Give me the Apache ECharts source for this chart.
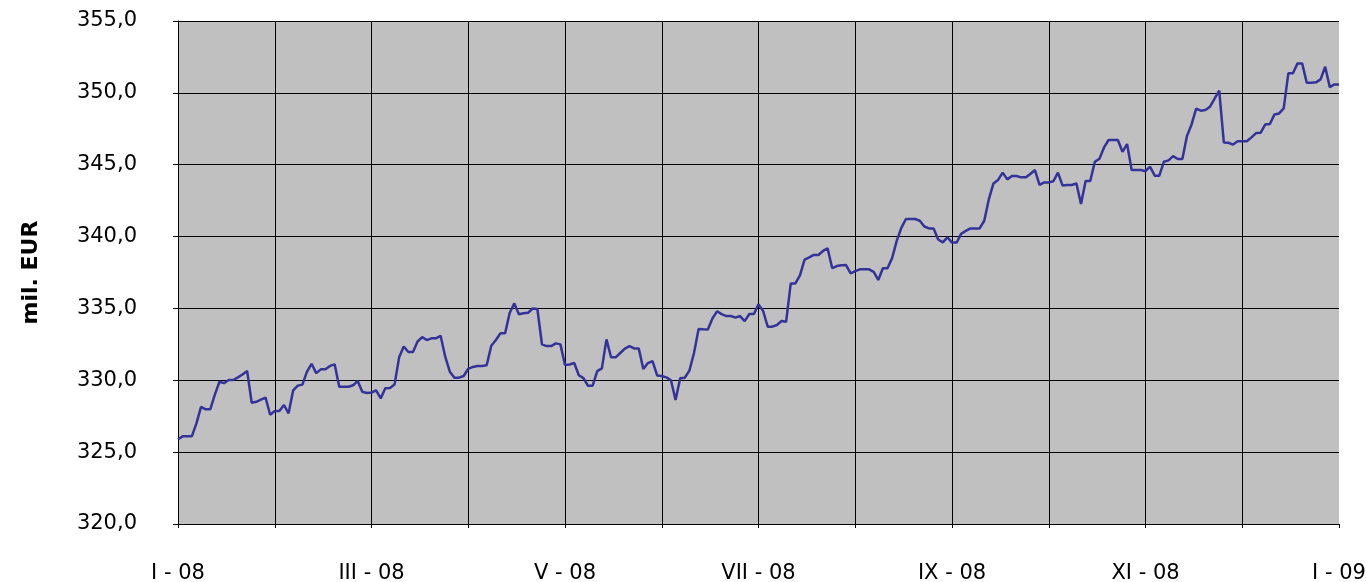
<!DOCTYPE html>
<html>
<head>
<meta charset="utf-8">
<script src="https://cdn.jsdelivr.net/npm/echarts@6/dist/echarts.min.js"></script>
<style>
  html, body { margin: 0; padding: 0; background: #ffffff; }
  #chart { width: 1366px; height: 582px; }
</style>
</head>
<body>
<div id="chart"></div>
<script>
// Month tick labels (one per month boundary, Jan 2008 .. Jan 2009)
const tickLabels = ['I - 08', 'II - 08', 'III - 08', 'IV - 08', 'V - 08', 'VI - 08', 'VII - 08',
  'VIII - 08', 'IX - 08', 'X - 08', 'XI - 08', 'XII - 08', 'I - 09'];
const pointsPerMonth = 21;

// Daily values, mil. EUR
const values = [
  325.9, 326.1, 326.1, 326.1, 327.0, 328.15, 327.98, 327.98, 329.0, 329.9,
  329.8, 330.02, 330.02, 330.2, 330.4, 330.65, 328.44, 328.5, 328.65, 328.8,
  327.6, 327.86, 327.86, 328.28, 327.7, 329.3, 329.63, 329.7, 330.6, 331.15,
  330.5, 330.76, 330.76, 331.0, 331.11, 329.55, 329.55, 329.55, 329.65, 329.95,
  329.2, 329.12, 329.15, 329.3, 328.74, 329.44, 329.47, 329.7, 331.6, 332.35,
  331.97, 331.97, 332.7, 333.0, 332.8, 332.92, 332.92, 333.1, 331.64, 330.6,
  330.18, 330.18, 330.3, 330.8, 330.93, 330.99, 330.99, 331.05, 332.4, 332.8,
  333.27, 333.27, 334.7, 335.35, 334.6, 334.66, 334.7, 335.0, 334.96, 332.5,
  332.38, 332.38, 332.57, 332.5, 331.06, 331.1, 331.2, 330.35, 330.15, 329.62,
  329.62, 330.64, 330.83, 332.85, 331.6, 331.6, 331.9, 332.2, 332.38, 332.22,
  332.22, 330.78, 331.2, 331.34, 330.34, 330.3, 330.2, 330.0, 328.63, 330.14,
  330.18, 330.67, 331.9, 333.57, 333.55, 333.54, 334.3, 334.8, 334.6, 334.47,
  334.47, 334.36, 334.47, 334.12, 334.61, 334.61, 335.28, 334.82, 333.73, 333.73,
  333.85, 334.12, 334.08, 336.74, 336.74, 337.3, 338.4, 338.55, 338.72, 338.72,
  339.0, 339.18, 337.8, 337.95, 338.0, 338.02, 337.44, 337.6, 337.72, 337.72,
  337.72, 337.55, 336.98, 337.79, 337.79, 338.5, 339.7, 340.6, 341.22, 341.22,
  341.22, 341.1, 340.7, 340.57, 340.57, 339.8, 339.6, 339.95, 339.58, 339.58,
  340.2, 340.4, 340.57, 340.57, 340.57, 341.1, 342.6, 343.7, 343.94, 344.45,
  343.98, 344.21, 344.21, 344.12, 344.12, 344.35, 344.63, 343.6, 343.77, 343.77,
  343.85, 344.45, 343.55, 343.59, 343.59, 343.7, 342.27, 343.87, 343.87, 345.2,
  345.42, 346.2, 346.72, 346.72, 346.72, 345.9, 346.44, 344.63, 344.63, 344.63,
  344.55, 344.86, 344.24, 344.24, 345.21, 345.3, 345.6, 345.4, 345.4, 347.0,
  347.8, 348.9, 348.76, 348.8, 349.04, 349.6, 350.15, 346.55, 346.53, 346.4,
  346.63, 346.63, 346.63, 346.9, 347.2, 347.23, 347.8, 347.83, 348.5, 348.57,
  348.92, 351.36, 351.36, 352.05, 352.05, 350.7, 350.7, 350.73, 350.94, 351.82,
  350.4, 350.59, 350.59
];

const categories = values.map((v, i) => i);
const lastIndex = values.length - 1;

const chart = echarts.init(document.getElementById('chart'), null, { renderer: 'canvas' });
const font = 'DejaVu Sans';

chart.setOption({
  animation: false,
  backgroundColor: '#ffffff',
  grid: {
    left: 178, right: 27, top: 21, bottom: 58,
    containLabel: false,
    outerBoundsMode: 'none',
    show: true, backgroundColor: '#c0c0c0', borderWidth: 0
  },
  xAxis: {
    type: 'category',
    boundaryGap: false,
    data: categories,
    axisLine: { show: true, lineStyle: { color: '#000000', width: 1 } },
    axisTick: {
      show: true, length: 4,
      interval: (idx) => idx % pointsPerMonth === 0,
      lineStyle: { color: '#000000', width: 1 }
    },
    axisLabel: {
      interval: (idx) => idx % (2 * pointsPerMonth) === 0,
      formatter: (val, idx) => tickLabels[Math.round(idx / pointsPerMonth)],
      margin: 39,
      fontFamily: font, fontSize: 21, color: '#000000'
    },
    splitLine: {
      show: true,
      interval: (idx) => idx % pointsPerMonth === 0 && idx !== 0 && idx !== lastIndex,
      lineStyle: { color: '#000000', width: 1 }
    }
  },
  yAxis: {
    type: 'value',
    min: 320, max: 355, interval: 5,
    name: 'mil. EUR',
    nameLocation: 'middle',
    nameRotate: 90,
    nameGap: 136,
    nameTextStyle: { fontFamily: font, fontSize: 22, fontWeight: 'bold', color: '#000000' },
    axisLine: { show: true, lineStyle: { color: '#000000', width: 1 } },
    axisTick: { show: true, length: 5, lineStyle: { color: '#000000', width: 1 } },
    axisLabel: {
      margin: 41,
      fontFamily: font, fontSize: 21, color: '#000000',
      formatter: (v) => v.toFixed(1).replace('.', ',')
    },
    splitLine: { show: true, lineStyle: { color: '#000000', width: 1 } }
  },
  series: [{
    type: 'line',
    data: values,
    symbol: 'none',
    lineStyle: { color: '#333399', width: 2.5 },
    itemStyle: { color: '#333399' }
  }]
});
</script>
</body>
</html>
